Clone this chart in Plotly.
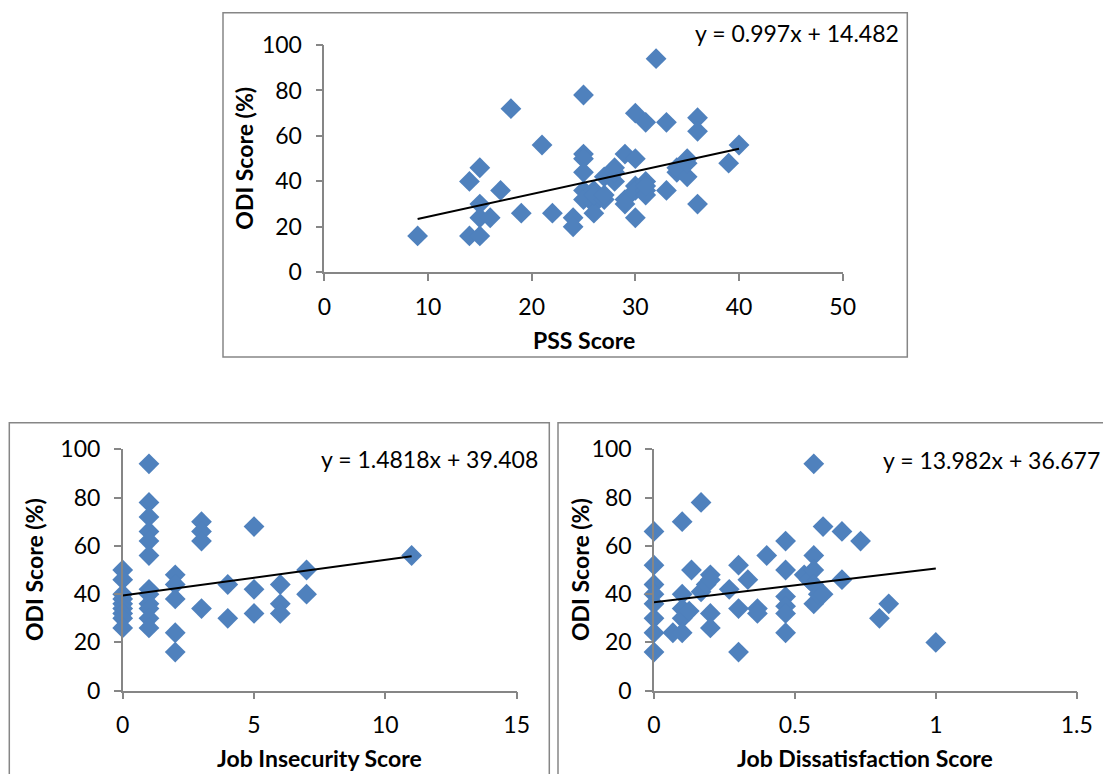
import plotly.graph_objects as go

# ---------------- data ----------------
pss_score = [9, 14, 14, 15, 15, 15, 15, 16, 17, 18, 19, 21, 22, 24, 24,
             25, 25, 25, 25, 25, 25, 26, 26, 26, 26, 27, 27, 27, 28, 28, 28,
             29, 29, 29, 30, 30, 30, 30, 30, 31, 31, 31, 31, 31, 32, 33, 33,
             34, 34, 35, 35, 35, 36, 36, 36, 39, 40]
odi_pss = [16, 40, 16, 46, 30, 24, 16, 24, 36, 72, 26, 56, 26, 24, 20,
           78, 52, 50, 44, 36, 32, 36, 30, 26, 34, 32, 42, 34, 46, 40, 44,
           52, 32, 30, 70, 50, 38, 24, 36, 66, 40, 36, 34, 38, 94, 66, 36,
           44, 46, 50, 42, 48, 68, 62, 30, 48, 56]

job_insecurity = [0, 0, 0, 0, 0, 0, 0, 0, 0,
                  1, 1, 1, 1, 1, 1, 1, 1, 1, 1, 1, 1,
                  2, 2, 2, 2, 2,
                  3, 3, 3, 3,
                  4, 4,
                  5, 5, 5,
                  6, 6, 6,
                  7, 7,
                  11]
odi_ji = [50, 46, 40, 38, 36, 34, 32, 30, 26,
          94, 78, 72, 66, 62, 56, 42, 40, 36, 34, 30, 26,
          48, 44, 38, 24, 16,
          70, 66, 62, 34,
          44, 30,
          68, 42, 32,
          44, 36, 32,
          50, 40,
          56]

job_dissatisfaction = [0, 0, 0, 0, 0, 0, 0, 0,
                       0.067,
                       0.1, 0.1, 0.1, 0.1, 0.1,
                       0.125, 0.133, 0.167, 0.167, 0.185,
                       0.2, 0.2, 0.2, 0.2,
                       0.267, 0.3, 0.3, 0.3, 0.333, 0.367, 0.367, 0.4,
                       0.467, 0.467, 0.467, 0.467, 0.467, 0.467,
                       0.533, 0.55,
                       0.567, 0.567, 0.567, 0.567, 0.567,
                       0.583, 0.6, 0.6, 0.667, 0.667, 0.733, 0.8, 0.833, 1.0]
odi_jd = [66, 52, 44, 40, 36, 30, 24, 16,
          24,
          70, 40, 34, 30, 24,
          33, 50, 78, 41, 44,
          48, 46, 32, 26,
          42, 52, 34, 16, 46, 34, 32, 56,
          62, 50, 39, 35, 32, 24,
          48, 46,
          94, 56, 50, 44, 36,
          40, 68, 40, 66, 46, 62, 30, 36, 20]

# trendline coefficients (as printed)
trend_pss = (0.997, 14.482)
trend_ji = (1.4818, 39.408)
trend_jd = (13.982, 36.677)

eq_pss = "y = 0.997x + 14.482"
eq_ji = "y = 1.4818x + 39.408"
eq_jd = "y = 13.982x + 36.677"

x_titles = ["PSS Score", "Job Insecurity Score", "Job Dissatisfaction Score"]
y_title = "ODI Score (%)"

# ---------------- layout geometry ----------------
# The page keeps the browser's default 8px body margin, so the figure is
# sized to fill the 1111x782 window exactly inside that margin.
PAGE_W, PAGE_H, OFF = 1111, 782, 8
W, H = PAGE_W - 2 * OFF, PAGE_H - 2 * OFF
FONT = "Lato"
BLUE = "#4F81BD"
AXIS = "#868686"


def px(x):
    return (x - OFF) / W


def py(y):
    return 1 - (y - OFF) / H


fig = go.Figure()

panels = [
    dict(xs=pss_score, ys=odi_pss, coef=trend_pss, xa="x", ya="y",
         xdom=[px(324.3), px(842.7)], ydom=[py(272.3), py(45)],
         xrange=[0, 50], dtick=10),
    dict(xs=job_insecurity, ys=odi_ji, coef=trend_ji, xa="x2", ya="y2",
         xdom=[px(122.7), px(516.7)], ydom=[py(690.7), py(449.3)],
         xrange=[0, 15], dtick=5),
    dict(xs=job_dissatisfaction, ys=odi_jd, coef=trend_jd, xa="x3", ya="y3",
         xdom=[px(654), px(1076.7)], ydom=[py(690.7), py(449.3)],
         xrange=[0, 1.5], dtick=0.5),
]

for p in panels:
    fig.add_trace(go.Scatter(
        x=p["xs"], y=p["ys"], mode="markers", xaxis=p["xa"], yaxis=p["ya"],
        marker=dict(symbol="diamond", size=16, color=BLUE, line=dict(width=0)),
        cliponaxis=False, showlegend=False))
    m, b = p["coef"]
    x0, x1 = min(p["xs"]), max(p["xs"])
    fig.add_trace(go.Scatter(
        x=[x0, x1], y=[m * x0 + b, m * x1 + b], mode="lines",
        xaxis=p["xa"], yaxis=p["ya"],
        line=dict(color="black", width=2), cliponaxis=False, showlegend=False))

axis_common = dict(showline=True, linecolor=AXIS, linewidth=1.5,
                   ticks="outside", tickcolor=AXIS, tickwidth=1.5, ticklen=7,
                   showgrid=False, zeroline=False, automargin=False,
                   tickfont=dict(family=FONT, size=23, color="black"))

layout = dict(width=W, height=H, autosize=False,
              margin=dict(l=0, r=0, t=0, b=0),
              paper_bgcolor="white", plot_bgcolor="white",
              font=dict(family=FONT, size=23, color="black"))

for i, p in enumerate(panels):
    sfx = "" if i == 0 else str(i + 1)
    layout["xaxis" + sfx] = dict(domain=p["xdom"], range=p["xrange"],
                                 dtick=p["dtick"], tick0=0,
                                 anchor="y" + sfx, ticklabelstandoff=6,
                                 **axis_common)
    layout["yaxis" + sfx] = dict(domain=p["ydom"], range=[0, 100], dtick=20,
                                 tick0=0, anchor="x" + sfx,
                                 ticklabelstandoff=9, **axis_common)

fig.update_layout(**layout)

# chart frames
frames = [(223, 12.7, 907.3, 357), (9.3, 422.7, 549.3, 800),
          (558, 422.7, 1130, 800)]
for (l, t, r, bt) in frames:
    fig.add_shape(type="rect", xref="paper", yref="paper",
                  x0=px(l), x1=px(r), y0=py(bt), y1=py(t),
                  line=dict(color=AXIS, width=1.5), fillcolor="rgba(0,0,0,0)")

# axis titles (x title position, its vertical anchor, y title position)
title_pos = [
    (583.5, 340, "middle", 244, 158.7),
    (319.7, 773, "bottom", 34, 570),
    (865, 773, "bottom", 580, 570),
]
for (xt, (xx, xy, xya, yx, yy)) in zip(x_titles, title_pos):
    fig.add_annotation(text="<b>%s</b>" % xt, xref="paper", yref="paper",
                       x=px(xx), y=py(xy), showarrow=False,
                       xanchor="center", yanchor=xya, borderpad=0,
                       font=dict(family=FONT, size=23, color="black"))
    fig.add_annotation(text="<b>%s</b>" % y_title, xref="paper", yref="paper",
                       x=px(yx), y=py(yy), showarrow=False, textangle=-90,
                       xanchor="center", yanchor="middle",
                       font=dict(family=FONT, size=23, color="black"))

# trendline equations
for (txt, xr, yc) in [(eq_pss, 901, 33), (eq_ji, 540, 459), (eq_jd, 1102, 460)]:
    fig.add_annotation(text=txt, xref="paper", yref="paper",
                       x=px(xr), y=py(yc), showarrow=False,
                       xanchor="right", yanchor="middle",
                       font=dict(family=FONT, size=23, color="black"))

fig.write_html("out.html", config={"displayModeBar": False})
